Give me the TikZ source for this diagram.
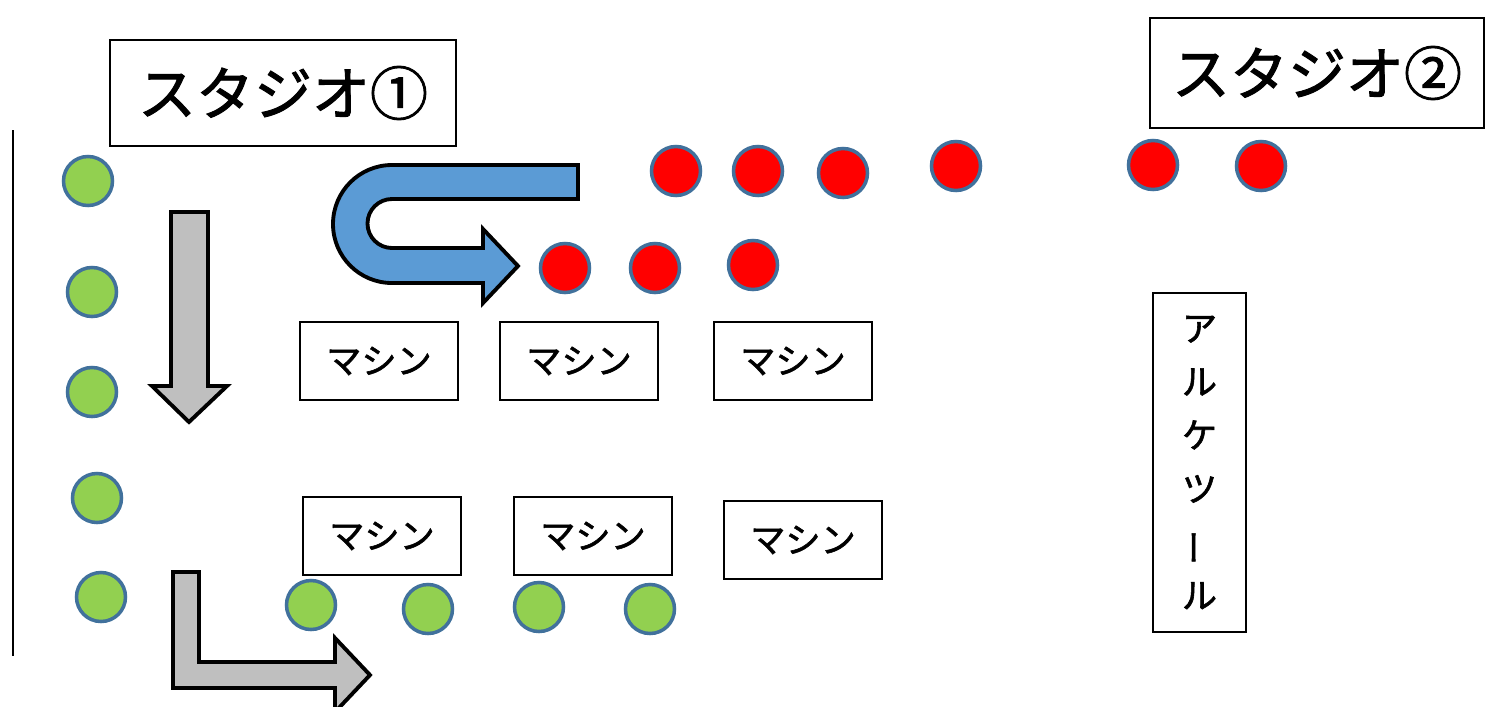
\documentclass[tikz,border=0pt]{standalone}
\usepackage{fontspec}
\usepackage{graphicx}
\setmainfont{Noto Sans CJK JP}[FakeBold=1.6]
\definecolor{seatgreen}{HTML}{92D050}
\definecolor{seatred}{HTML}{FF0000}
\definecolor{seatline}{HTML}{41719C}
\definecolor{flowblue}{HTML}{5B9BD5}
\definecolor{flowgray}{HTML}{BFBFBF}
\tikzset{
  seatg/.style={circle,draw=seatline,line width=1pt,fill=seatgreen,minimum size=4.9mm,inner sep=0pt},
  seatr/.style={circle,draw=seatline,line width=1pt,fill=seatred,minimum size=4.9mm,inner sep=0pt},
  titlebox/.style={draw,line width=0.7pt,inner sep=0pt,font=\fontsize{16.5}{16.5}\selectfont},
  machinebox/.style={draw,line width=0.7pt,minimum width=15.8mm,minimum height=7.8mm,inner sep=0pt,font=\fontsize{10}{10}\selectfont},
  flow/.style={draw=black,line width=1.1pt,line join=miter}
}
\begin{document}
\begin{tikzpicture}  % ------ Studio layout --------------
      [x=0.1mm,y=-0.1mm]
    \useasboundingbox (0,0) rectangle (1485,706);

    % wall
    \coordinate (W1) at (13,130);
    \coordinate (W2) at (13,656);
    \draw[line width=0.6pt] (W1) -- (W2);

    % titles
    \node[titlebox,minimum width=34.6mm,minimum height=10.6mm] (S1) at (283,93) {スタジオ①};
    \node[titlebox,minimum width=33.4mm,minimum height=11mm] (S2) at (1317,73) {スタジオ②};

    % flow arrows
    \draw[flow,fill=flowgray] (171,212) -- (208,212) -- (208,386) -- (227,386)
        -- (189,422) -- (152,386) -- (171,386) -- cycle;
    \draw[flow,fill=flowgray] (173,572) -- (199,572) -- (199,662) -- (335,662)
        -- (335,638) -- (370,675) -- (335,712) -- (335,688) -- (173,688) -- cycle;
    \draw[flow,fill=flowblue] (578,165) -- (392,165) arc (270:90:59) -- (483,283)
        -- (483,303) -- (518,266) -- (483,229) -- (483,248) -- (392,248)
        arc (90:270:24.5) -- (578,199) -- cycle;

    % machines
    \node[machinebox] (M1) at (379,361) {マシン};
    \node[machinebox] (M2) at (579,361) {マシン};
    \node[machinebox] (M3) at (793,361) {マシン};
    \node[machinebox] (M4) at (382,536) {マシン};
    \node[machinebox] (M5) at (593,536) {マシン};
    \node[machinebox] (M6) at (803,540) {マシン};

    % tool rack
    \node[draw,line width=0.7pt,minimum width=9.3mm,minimum height=33.9mm,inner sep=0pt,
          align=center,font=\fontsize{10}{15.2}\selectfont] (T) at (1199.5,462.5)
          {ア\\ル\\ケ\\ツ\\\rotatebox[origin=c]{90}{ー}\\ル};

    % green seats
    \node[seatg] (G1) at (88,181) {};
    \node[seatg] (G2) at (92,292) {};
    \node[seatg] (G3) at (92,392) {};
    \node[seatg] (G4) at (97,498) {};
    \node[seatg] (G5) at (101,597) {};
    \node[seatg] (G6) at (311,605) {};
    \node[seatg] (G7) at (428,609) {};
    \node[seatg] (G8) at (539,607) {};
    \node[seatg] (G9) at (650,609) {};

    % red seats
    \node[seatr] (R1) at (676,171) {};
    \node[seatr] (R2) at (758,171) {};
    \node[seatr] (R3) at (843,173) {};
    \node[seatr] (R4) at (956,166) {};
    \node[seatr] (R5) at (1153,165) {};
    \node[seatr] (R6) at (1261,166) {};
    \node[seatr] (R7) at (565,268) {};
    \node[seatr] (R8) at (655,268) {};
    \node[seatr] (R9) at (753,265) {};
\end{tikzpicture}
\end{document}
